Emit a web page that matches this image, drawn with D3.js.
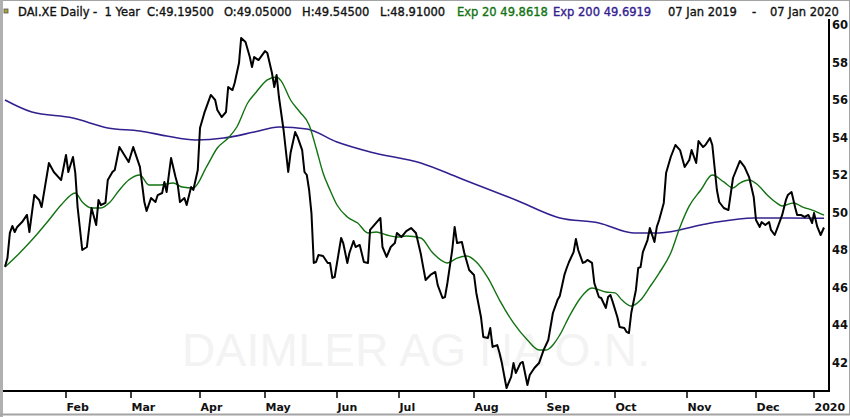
<!DOCTYPE html>
<html>
<head>
<meta charset="utf-8">
<script src="https://cdn.jsdelivr.net/npm/d3@7"></script>
<style>
  body { margin: 0; background: #fff; }
  svg text { font-family: "DejaVu Sans", sans-serif; }
</style>
</head>
<body>
<svg id="chart" width="850" height="417"></svg>
<script>
// daily closes
var closeData = [
  ["2019-01-07",47.11],["2019-01-08",47.57],["2019-01-09",48.91],["2019-01-10",49.28],["2019-01-11",48.96],
  ["2019-01-12",49.23],["2019-01-14",49.49],["2019-01-16",49.87],["2019-01-17",48.96],["2019-01-19",50.93],
  ["2019-01-21",50.67],["2019-01-22",50.29],["2019-01-25",52.64],["2019-01-27",52.16],["2019-01-30",51.73],
  ["2019-02-01",53.07],["2019-02-02",52.16],["2019-02-04",52.96],["2019-02-05",52.11],["2019-02-06",50.29],
  ["2019-02-08",48.00],["2019-02-10",48.16],["2019-02-12",50.24],["2019-02-14",49.33],["2019-02-15",50.67],
  ["2019-02-16",50.40],["2019-02-18",50.51],["2019-02-19",51.73],["2019-02-21",52.16],["2019-02-22",52.27],
  ["2019-02-24",53.49],["2019-02-28",52.69],["2019-03-02",53.49],["2019-03-05",52.43],["2019-03-07",50.56],
  ["2019-03-08",50.08],["2019-03-10",50.77],["2019-03-12",50.56],["2019-03-13",50.93],["2019-03-15",51.04],
  ["2019-03-16",51.63],["2019-03-17",51.09],["2019-03-19",52.91],["2019-03-21",51.89],["2019-03-22",51.47],
  ["2019-03-23",50.56],["2019-03-25",50.77],["2019-03-26",50.40],["2019-03-28",51.36],["2019-03-29",51.20],
  ["2019-03-31",52.27],["2019-04-01",54.51],["2019-04-03",55.31],["2019-04-06",56.27],["2019-04-08",56.00],
  ["2019-04-09",55.47],["2019-04-11",55.09],["2019-04-13",55.36],["2019-04-14",56.69],["2019-04-16",56.53],
  ["2019-04-17",56.91],["2019-04-19",57.97],["2019-04-20",59.31],["2019-04-22",59.09],["2019-04-24",58.29],
  ["2019-04-25",57.76],["2019-04-26",58.29],["2019-04-28",58.13],["2019-05-01",58.61],["2019-05-02",58.51],
  ["2019-05-04",57.44],["2019-05-05",56.69],["2019-05-06",57.33],["2019-05-07",56.16],["2019-05-09",54.40],
  ["2019-05-11",52.16],["2019-05-12",53.17],["2019-05-14",54.29],["2019-05-15",54.03],["2019-05-17",53.33],
  ["2019-05-18",52.16],["2019-05-19",52.00],["2019-05-20",51.20],["2019-05-21",49.97],["2019-05-22",47.31],
  ["2019-05-23",47.36],["2019-05-24",47.73],["2019-05-26",47.68],["2019-05-28",47.31],["2019-05-29",47.31],
  ["2019-05-30",46.51],["2019-05-31",46.56],["2019-06-03",48.64],["2019-06-04",48.37],["2019-06-06",47.31],
  ["2019-06-07",47.84],["2019-06-09",48.48],["2019-06-10",48.16],["2019-06-12",48.27],["2019-06-14",47.36],
  ["2019-06-16",47.31],["2019-06-17",49.07],["2019-06-19",49.33],["2019-06-22",49.71],["2019-06-23",48.16],
  ["2019-06-25",47.63],["2019-06-27",48.16],["2019-06-29",48.37],["2019-06-30",48.91],["2019-07-02",48.69],
  ["2019-07-04",49.01],["2019-07-06",49.17],["2019-07-08",48.91],["2019-07-10",47.80],["2019-07-11",47.09],
  ["2019-07-12",46.40],["2019-07-14",46.67],["2019-07-16",46.83],["2019-07-17",46.13],["2019-07-19",45.44],
  ["2019-07-20",45.49],["2019-07-21",46.24],["2019-07-23",48.00],["2019-07-24",49.23],["2019-07-25",48.37],
  ["2019-07-27",48.43],["2019-07-28",47.84],["2019-07-30",46.93],["2019-08-01",46.67],["2019-08-02",45.71],
  ["2019-08-04",44.43],["2019-08-05",43.36],["2019-08-07",43.31],["2019-08-08",43.84],["2019-08-09",42.83],
  ["2019-08-11",42.93],["2019-08-12",42.51],["2019-08-13",41.97],["2019-08-15",40.64],["2019-08-17",41.23],
  ["2019-08-18",41.97],["2019-08-19",41.44],["2019-08-21",41.97],["2019-08-22",42.03],["2019-08-24",40.80],
  ["2019-08-25",41.33],["2019-08-27",41.71],["2019-08-29",41.97],["2019-08-31",42.67],["2019-09-02",43.20],
  ["2019-09-04",44.64],["2019-09-06",45.33],["2019-09-07",45.55],["2019-09-09",46.67],["2019-09-10",47.04],
  ["2019-09-11",47.36],["2019-09-13",47.89],["2019-09-14",48.59],["2019-09-15",48.00],["2019-09-17",47.31],
  ["2019-09-18",47.36],["2019-09-19",47.47],["2019-09-21",47.31],["2019-09-22",46.24],["2019-09-24",45.49],
  ["2019-09-25",45.44],["2019-09-27",44.91],["2019-09-28",45.49],["2019-09-29",45.60],["2019-09-30",45.23],
  ["2019-10-02",44.43],["2019-10-03",43.89],["2019-10-05",43.84],["2019-10-06",43.63],["2019-10-07",43.57],
  ["2019-10-08",44.64],["2019-10-10",45.87],["2019-10-11",47.04],["2019-10-12",47.09],["2019-10-13",47.89],
  ["2019-10-15",48.53],["2019-10-16",49.17],["2019-10-18",48.43],["2019-10-19",49.23],["2019-10-20",49.60],
  ["2019-10-22",50.51],["2019-10-23",52.11],["2019-10-25",52.96],["2019-10-27",53.60],["2019-10-29",53.33],
  ["2019-10-31",52.43],["2019-11-02",52.80],["2019-11-03",53.33],["2019-11-05",52.64],["2019-11-06",53.81],
  ["2019-11-08",53.49],["2019-11-09",53.60],["2019-11-11",53.97],["2019-11-12",53.60],["2019-11-14",51.20],
  ["2019-11-15",50.56],["2019-11-17",50.24],["2019-11-19",50.13],["2019-11-21",51.84],["2019-11-24",52.75],
  ["2019-11-26",52.43],["2019-11-28",51.89],["2019-11-30",50.83],["2019-12-01",49.60],["2019-12-03",49.23],
  ["2019-12-04",49.49],["2019-12-06",49.33],["2019-12-08",49.49],["2019-12-09",49.07],["2019-12-11",48.80],
  ["2019-12-13",49.33],["2019-12-15",49.87],["2019-12-17",50.67],["2019-12-18",50.93],["2019-12-20",51.09],
  ["2019-12-22",50.24],["2019-12-23",49.87],["2019-12-25",49.87],["2019-12-27",49.76],["2019-12-29",49.87],
  ["2019-12-31",49.44],["2020-01-01",49.97],["2020-01-03",49.23],["2020-01-05",48.80],["2020-01-07",49.20]
];

var ema20Data = [
  ["2019-01-07",47.09],["2019-01-13",47.84],["2019-01-18",48.53],["2019-01-25",49.60],["2019-01-30",50.40],
  ["2019-02-05",51.04],["2019-02-08",50.56],["2019-02-12",50.24],["2019-02-16",50.24],["2019-02-20",50.56],
  ["2019-02-24",51.20],["2019-02-28",51.73],["2019-03-05",52.00],["2019-03-09",51.47],["2019-03-14",51.47],
  ["2019-03-20",51.57],["2019-03-24",51.36],["2019-03-29",51.31],["2019-04-04",52.43],["2019-04-09",53.44],
  ["2019-04-14",53.97],["2019-04-18",54.56],["2019-04-23",55.84],["2019-04-27",56.43],["2019-05-02",57.07],
  ["2019-05-06",57.23],["2019-05-08",57.01],["2019-05-12",56.00],["2019-05-16",55.36],["2019-05-20",54.67],
  ["2019-05-23",53.44],["2019-05-26",52.11],["2019-05-29",51.20],["2019-06-01",50.40],["2019-06-06",49.76],
  ["2019-06-11",49.44],["2019-06-16",48.91],["2019-06-20",48.96],["2019-06-25",48.80],["2019-06-30",48.69],
  ["2019-07-04",48.75],["2019-07-10",48.64],["2019-07-15",47.84],["2019-07-21",47.31],["2019-07-25",47.57],
  ["2019-07-29",47.68],["2019-08-02",47.36],["2019-08-07",46.51],["2019-08-12",45.33],["2019-08-18",44.11],
  ["2019-08-24",43.20],["2019-08-29",42.67],["2019-09-01",42.67],["2019-09-07",43.47],["2019-09-11",44.43],
  ["2019-09-16",45.44],["2019-09-21",45.97],["2019-09-27",45.76],["2019-10-01",45.71],["2019-10-04",45.33],
  ["2019-10-08",45.01],["2019-10-12",45.33],["2019-10-16",46.03],["2019-10-20",46.77],["2019-10-25",47.84],
  ["2019-10-29",49.23],["2019-11-02",50.35],["2019-11-07",51.20],["2019-11-12",52.00],["2019-11-17",51.63],
  ["2019-11-21",51.31],["2019-11-24",51.57],["2019-11-28",51.73],["2019-12-02",51.47],["2019-12-07",50.93],
  ["2019-12-12",50.51],["2019-12-15",50.35],["2019-12-21",50.51],["2019-12-26",50.29],["2019-12-31",50.13],
  ["2020-01-07",49.86]
];

var ema200Data = [
  ["2019-01-07",56.00],["2019-01-18",55.36],["2019-02-04",55.04],["2019-02-19",54.51],["2019-03-05",54.35],
  ["2019-03-17",54.08],["2019-03-30",53.87],["2019-04-12",53.97],["2019-04-26",54.29],["2019-05-07",54.56],
  ["2019-05-19",54.45],["2019-06-01",53.76],["2019-06-17",53.23],["2019-07-10",52.64],["2019-07-26",51.84],
  ["2019-08-19",50.67],["2019-09-07",49.71],["2019-09-24",49.44],["2019-10-09",48.91],["2019-10-20",48.91],
  ["2019-11-07",49.33],["2019-11-14",49.49],["2019-11-30",49.71],["2019-12-19",49.71],["2020-01-07",49.69]
];

var monthTicks = ["2019-02-01","2019-03-01","2019-04-01","2019-05-01","2019-06-01","2019-07-01",
  "2019-08-01","2019-09-01","2019-10-01","2019-11-01","2019-12-01","2020-01-01"];
var priceTicks = [42, 44, 46, 48, 50, 52, 54, 56, 58, 60];

var headerText = ["DAI.XE Daily -  1 Year", "C:49.19500", "O:49.05000", "H:49.54500", "L:48.91000",
  "Exp 20 49.8618", "Exp 200 49.6919", "07 Jan 2019", "-", "07 Jan 2020"];
var watermark = "DAIMLER AG NA O.N.";

// layout
var width = 850, height = 417;
var plotRight = 829, plotBottom = 391;
var headerX = [18, 147, 224, 302, 380, 457, 553, 668, 752, 770];
var green = "#127212", purple = "#33208f";
var headerColor = [null, null, null, null, null, green, purple, null, null, null];

var parse = d3.timeParse("%Y-%m-%d");

// the time axis is spaced by trading days, so calibrate it month by month
var xAnchorDates = ["2019-01-07"].concat(monthTicks, ["2020-01-07"]).map(parse);
var xAnchorPx = [5, 66, 131, 200, 265, 337, 399, 474, 546, 615, 687, 756, 814, 824];

var x = d3.scaleTime().domain(xAnchorDates).range(xAnchorPx);
var y = d3.scaleLinear().domain([42, 60]).range([362.5, 25]);

var svg = d3.select("#chart");

svg.append("rect").attr("width", width).attr("height", height).attr("fill", "#fff");

svg.append("defs").append("clipPath").attr("id", "plot-clip")
  .append("rect").attr("x", 3).attr("y", 18).attr("width", plotRight - 3).attr("height", plotBottom - 18);

svg.append("text")
  .attr("x", 182).attr("y", 366)
  .style("font-family", "'Liberation Sans', Arial, sans-serif")
  .attr("font-size", 46)
  .attr("textLength", 468)
  .attr("fill", "#f3f3f3")
  .text(watermark);

var line = function(curve) {
  return d3.line()
    .x(function(d) { return x(parse(d[0])); })
    .y(function(d) { return y(d[1]); })
    .curve(curve);
};

var plot = svg.append("g").attr("clip-path", "url(#plot-clip)");

plot.append("path").datum(ema200Data)
  .attr("d", line(d3.curveMonotoneX))
  .attr("fill", "none").attr("stroke", purple).attr("stroke-width", 1.6);

plot.append("path").datum(ema20Data)
  .attr("d", line(d3.curveMonotoneX))
  .attr("fill", "none").attr("stroke", green).attr("stroke-width", 1.4);

plot.append("path").datum(closeData)
  .attr("d", line(d3.curveLinear))
  .attr("fill", "none").attr("stroke", "#000").attr("stroke-width", 2)
  .attr("stroke-linejoin", "round");

// axes frame
svg.append("line")
  .attr("x1", 3).attr("x2", plotRight + 1).attr("y1", plotBottom).attr("y2", plotBottom)
  .attr("stroke", "#000").attr("stroke-width", 2);
svg.append("line")
  .attr("x1", plotRight).attr("x2", plotRight).attr("y1", 19).attr("y2", plotBottom)
  .attr("stroke", "#000").attr("stroke-width", 2);

var monthFormat = function(d) { return d.getMonth() == 0 ? d3.timeFormat("%Y")(d) : d3.timeFormat("%b")(d); };

var xAxis = svg.append("g").attr("class", "x-axis");
xAxis.selectAll("line").data(monthTicks.map(parse)).enter()
  .append("line")
  .attr("x1", function(d) { return x(d); }).attr("x2", function(d) { return x(d); })
  .attr("y1", plotBottom).attr("y2", plotBottom + 7)
  .attr("stroke", "#000").attr("stroke-width", 1.5);
xAxis.selectAll("text").data(monthTicks.map(parse)).enter()
  .append("text")
  .attr("x", function(d) { return x(d) + 0.5; })
  .attr("y", 411)
  .attr("font-size", 11).attr("font-weight", "bold").attr("fill", "#111")
  .text(monthFormat);

svg.append("g").attr("class", "y-axis")
  .selectAll("text").data(priceTicks).enter()
  .append("text")
  .attr("x", plotRight + 3)
  .attr("y", function(d) { return y(d); })
  .attr("dy", "0.36em")
  .attr("font-size", 11.5).attr("font-weight", "bold").attr("fill", "#111")
  .text(function(d) { return d; });

// header
svg.append("rect")
  .attr("x", 4).attr("y", 9).attr("width", 4).attr("height", 4)
  .attr("fill", "#a7a23a").attr("stroke", "#555").attr("stroke-width", 0.8);

svg.append("g").attr("class", "header")
  .selectAll("text").data(headerText).enter()
  .append("text")
  .attr("x", function(d, i) { return headerX[i]; })
  .attr("y", 16)
  .attr("xml:space", "preserve")
  .style("white-space", "pre")
  .attr("font-size", 11.5)
  .attr("fill", function(d, i) { return headerColor[i] || "#111"; })
  .attr("stroke", function(d, i) { return headerColor[i] || "#111"; })
  .attr("stroke-width", 0.35)
  .text(function(d) { return d; });

// window frame
svg.append("rect")
  .attr("x", 0.5).attr("y", 0.5).attr("width", width - 1).attr("height", height - 3)
  .attr("fill", "none").attr("stroke", "#a3a3a3").attr("stroke-width", 1);
svg.append("rect")
  .attr("x", 0).attr("y", 0).attr("width", 3).attr("height", height)
  .attr("fill", "#b0b0b0");
svg.append("line")
  .attr("x1", 0).attr("x2", width).attr("y1", height - 2.5).attr("y2", height - 2.5)
  .attr("stroke", "#a3a3a3").attr("stroke-width", 2);
</script>
</body>
</html>
